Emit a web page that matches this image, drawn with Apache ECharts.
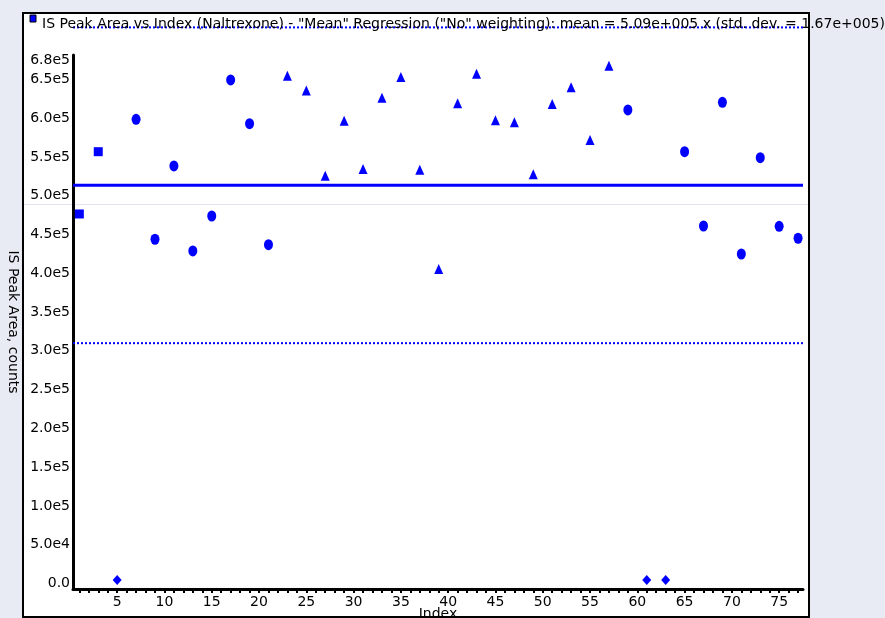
<!DOCTYPE html>
<html><head><meta charset="utf-8">
<script src="https://cdn.jsdelivr.net/npm/echarts@6/dist/echarts.min.js"></script>
<style>html,body{margin:0;padding:0;background:#E9EBF4;overflow:hidden;}#c{width:885px;height:618px;}</style>
</head><body><div id="c"></div>
<script>
// ---- data ----
const titleText = 'IS Peak Area vs Index (Naltrexone) - "Mean" Regression ("No" weighting): mean = 5.09e+005 x (std. dev. = 1.67e+005)';
const xAxisName = 'Index';
const yAxisName = 'IS Peak Area, counts';

const squareIdx = [1, 3];
const squareVal = [472000, 552300];

const diamondIdx = [5, 61, 63];
const diamondVal = [0, 0, 0];

const circleIdx = [7, 9, 11, 13, 15, 17, 19, 21, 59, 65, 67, 69, 71, 73, 75, 77];
const circleVal = [594100, 439400, 533900, 424300, 469400, 644800, 588400, 432400,
                   606100, 552300, 456500, 616000, 420400, 544600, 456100, 440700];

const triangleIdx = [23, 25, 27, 29, 31, 33, 35, 37, 39, 41, 43, 45, 47, 49, 51, 53, 55, 57];
const triangleVal = [650300, 631300, 521400, 592300, 530000, 622000, 648700, 529100, 401100,
                     614800, 652900, 592800, 590200, 523200, 613800, 635400, 567400, 663200];

const meanValue = 509000;
const lowerLimit = 305400;
const upperLimit = 712600;

const xTickValues = [5, 10, 15, 20, 25, 30, 35, 40, 45, 50, 55, 60, 65, 70, 75];
const xMinorTickValues = [1,2,3,4,5,6,7,8,9,10,11,12,13,14,15,16,17,18,19,20,21,22,23,24,25,26,27,28,29,30,31,32,33,34,35,36,37,38,39,40,41,42,43,44,45,46,47,48,49,50,51,52,53,54,55,56,57,58,59,60,61,62,63,64,65,66,67,68,69,70,71,72,73,74,75,76,77];
const yTickValues = [0, 50000, 100000, 150000, 200000, 250000, 300000, 350000, 400000, 450000, 500000, 550000, 600000, 650000, 677000];
const yTickLabels = ['0.0', '5.0e4', '1.0e5', '1.5e5', '2.0e5', '2.5e5', '3.0e5', '3.5e5', '4.0e5', '4.5e5', '5.0e5', '5.5e5', '6.0e5', '6.5e5', '6.8e5'];

const xMin = 0.33, xMax = 77.52;
const yMin = -11600, yMax = 677000;

// ---- chart ----
const FONT = '"DejaVu Sans", "Liberation Sans", Arial, sans-serif';
const BLUE = '#0000FF';
const pair = (xs, ys) => xs.map((x, i) => [x, ys[i]]);
const ellipse = 'path://M0,-1A1,1 0 1,1 0,1A1,1 0 1,1 0,-1Z';

const chart = echarts.init(document.getElementById('c'), null, {renderer: 'canvas'});
chart.setOption({
  animation: false,
  backgroundColor: 'transparent',
  textStyle: {fontFamily: FONT},
  title: {
    text: titleText, left: 42, top: 17, padding: 0,
    textStyle: {fontSize: 14, fontWeight: 'normal', color: '#000', fontFamily: FONT}
  },
  graphic: [
    {type: 'rect', z: -100, shape: {x: 23, y: 13, width: 786, height: 604}, style: {fill: '#fff', stroke: null}},
    {type: 'line', z: -90, shape: {x1: 24, y1: 204.5, x2: 808, y2: 204.5}, style: {stroke: '#E2E3F0', lineWidth: 1}},
    {type: 'rect', z: 100, shape: {x: 23, y: 13, width: 786, height: 604}, style: {fill: null, stroke: '#000', lineWidth: 2}},
    {type: 'rect', z: 100, shape: {x: 30, y: 15, width: 6, height: 7}, style: {fill: BLUE, stroke: '#000', lineWidth: 1}}
  ],
  grid: {left: 73, right: 82, top: 55, bottom: 29, containLabel: false, outerBoundsMode: 'none'},
  xAxis: {
    type: 'value', min: xMin, max: xMax,
    name: xAxisName, nameLocation: 'middle', nameGap: 18, nameMoveOverlap: false,
    nameTextStyle: {fontSize: 14, color: '#000', fontFamily: FONT},
    axisLine: {show: true, onZero: false, lineStyle: {color: '#000', width: 3}},
    axisTick: {show: true, inside: false, length: 4, customValues: xMinorTickValues, lineStyle: {color: '#000', width: 2}},
    axisLabel: {show: true, customValues: xTickValues, margin: 6, fontSize: 14, color: '#000', fontFamily: FONT,
                hideOverlap: false},
    splitLine: {show: false}
  },
  yAxis: {
    type: 'value', min: yMin, max: yMax,
    name: yAxisName, nameLocation: 'middle', nameGap: 53, nameRotate: -90, nameMoveOverlap: false,
    nameTextStyle: {fontSize: 14, color: '#000', fontFamily: FONT},
    axisLine: {show: true, onZero: false, lineStyle: {color: '#000', width: 3}},
    axisTick: {show: false},
    axisLabel: {
      show: true, customValues: yTickValues, margin: 3, fontSize: 14, color: '#000', fontFamily: FONT,
      padding: [7, 0, 0, 0], hideOverlap: false,
      formatter: function (v) {
        const i = yTickValues.indexOf(v);
        const s = i >= 0 ? yTickLabels[i] : '';
        return v === yMax ? '{top|' + s + '}' : s;
      },
      rich: {top: {fontSize: 14, color: '#000', fontFamily: FONT, padding: [4, 0, 0, 0]}}
    },
    splitLine: {show: false}
  },
  series: [
    {type: 'line', data: [[xMin, meanValue], [xMax, meanValue]], symbol: 'none', silent: true, z: 1,
     lineStyle: {color: BLUE, width: 3}},
    {type: 'line', data: [[xMin, lowerLimit], [xMax, lowerLimit]], symbol: 'none', silent: true, z: 1,
     lineStyle: {color: BLUE, width: 2, type: [2, 2]}},
    {type: 'line', data: [[xMin, upperLimit], [xMax, upperLimit]], symbol: 'none', silent: true, z: 1, clip: false,
     lineStyle: {color: BLUE, width: 2, type: [2, 2]}},
    {type: 'scatter', data: pair(squareIdx, squareVal), symbol: 'rect', symbolSize: 9, clip: false,
     itemStyle: {color: BLUE, opacity: 1}},
    {type: 'scatter', data: pair(diamondIdx, diamondVal), symbol: 'diamond', symbolSize: [9, 10], clip: false,
     itemStyle: {color: BLUE, opacity: 1}},
    {type: 'scatter', data: pair(circleIdx, circleVal), symbol: ellipse, symbolSize: [9, 11], clip: false,
     itemStyle: {color: BLUE, opacity: 1}},
    {type: 'scatter', data: pair(triangleIdx, triangleVal), symbol: 'triangle', symbolSize: [9, 10], clip: false,
     itemStyle: {color: BLUE, opacity: 1}}
  ]
});
</script>
</body></html>
